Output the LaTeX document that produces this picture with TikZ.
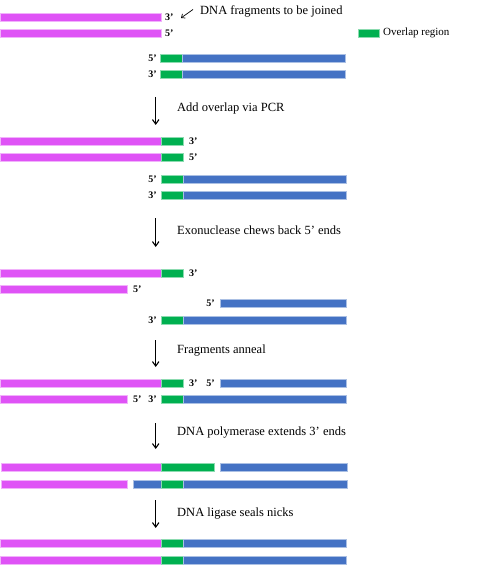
\documentclass[tikz,border=0pt]{standalone}
\usepackage{fontspec}
\setmainfont{Liberation Serif}
\usetikzlibrary{arrows.meta}
\definecolor{dna-pink}{HTML}{DF53F6}
\definecolor{dna-green}{HTML}{00B050}
\definecolor{dna-blue}{HTML}{4472C4}

\begin{document}
\begin{tikzpicture}[x=1pt, y=-1pt,
      every node/.style={font=\fontsize{12.5}{14}\selectfont, inner sep=0pt},
      pk/.style={fill=dna-pink, draw=dna-pink!45, line width=0.6pt},
      gn/.style={fill=dna-green, draw=dna-green!45, line width=0.6pt},
      bl/.style={fill=dna-blue, draw=dna-blue!45, line width=0.6pt},
      endlbl/.style={font=\fontsize{10}{11}\selectfont\bfseries},
      steparrow/.style={line width=1.1pt, -{Straight Barb[length=4.5pt, width=6.5pt]}}]
    \useasboundingbox (0,0) rectangle (487,569);
    % fragments to be joined
    \draw[pk] (0,13) rectangle (161,21);
    \draw[pk] (0,29) rectangle (161,37);
    \draw[gn] (160,54.5) rectangle (182,62.5);
    \draw[bl] (182,54.5) rectangle (345,62.5);
    \draw[gn] (160,70) rectangle (182,78);
    \draw[bl] (182,70) rectangle (345,78);
    \node[endlbl, anchor=west] (a1) at (165,17) {3’};
    \node[endlbl, anchor=west] (a2) at (165,33) {5’};
    \node[endlbl, anchor=east] (a3) at (157,58.5) {5’};
    \node[endlbl, anchor=east] (a4) at (157,74) {3’};
    \node[anchor=west] (title) at (200,11) {DNA fragments to be joined};
    \coordinate (ptrA) at (193,9.5);
    \coordinate (ptrB) at (181,18);
    \draw[line width=0.7pt, -{Straight Barb[length=3pt, width=5pt]}] (ptrA) -- (ptrB);
    \draw[gn] (358,29) rectangle (379,37);
    \node[anchor=west, font=\fontsize{11}{13}\selectfont] (legend) at (383,33) {Overlap region};
    % step 1
    \coordinate (s1a) at (155.7,97);
    \coordinate (s1b) at (155.7,125);
    \draw[steparrow] (s1a) -- (s1b);
    \node[anchor=west] (t1) at (177,108) {Add overlap via PCR};
    \draw[pk] (0,137) rectangle (161,145);
    \draw[gn] (161,137) rectangle (183,145);
    \draw[pk] (0,153) rectangle (161,161);
    \draw[gn] (161,153) rectangle (183,161);
    \draw[gn] (161,175) rectangle (183,183);
    \draw[bl] (183,175) rectangle (346,183);
    \draw[gn] (161,191) rectangle (183,199);
    \draw[bl] (183,191) rectangle (346,199);
    \node[endlbl, anchor=west] (b1) at (189,141) {3’};
    \node[endlbl, anchor=west] (b2) at (189,157) {5’};
    \node[endlbl, anchor=east] (b3) at (157,179) {5’};
    \node[endlbl, anchor=east] (b4) at (157,195) {3’};
    % step 2
    \coordinate (s2a) at (155.7,218);
    \coordinate (s2b) at (155.7,247);
    \draw[steparrow] (s2a) -- (s2b);
    \node[anchor=west] (t2) at (177,230) {Exonuclease chews back 5’ ends};
    \draw[pk] (0,269) rectangle (161,277);
    \draw[gn] (161,269) rectangle (183,277);
    \draw[pk] (0,285) rectangle (127,293);
    \draw[bl] (220,299.5) rectangle (346,307.5);
    \draw[gn] (161,316) rectangle (183,324);
    \draw[bl] (183,316) rectangle (346,324);
    \node[endlbl, anchor=west] (c1) at (189,273) {3’};
    \node[endlbl, anchor=west] (c2) at (133,289) {5’};
    \node[endlbl, anchor=east] (c3) at (215,303.5) {5’};
    \node[endlbl, anchor=east] (c4) at (157,320) {3’};
    % step 3
    \coordinate (s3a) at (155.7,340);
    \coordinate (s3b) at (155.7,367);
    \draw[steparrow] (s3a) -- (s3b);
    \node[anchor=west] (t3) at (177,351) {Fragments anneal};
    \draw[pk] (0,379) rectangle (161,387);
    \draw[gn] (161,379) rectangle (183,387);
    \draw[bl] (220,379) rectangle (346,387);
    \draw[pk] (0,395) rectangle (127,403);
    \draw[gn] (161,395) rectangle (183,403);
    \draw[bl] (183,395) rectangle (346,403);
    \node[endlbl, anchor=west] (d1) at (189,383) {3’};
    \node[endlbl, anchor=east] (d2) at (215,383) {5’};
    \node[endlbl, anchor=west] (d3) at (133,399) {5’};
    \node[endlbl, anchor=east] (d4) at (157,399) {3’};
    % step 4
    \coordinate (s4a) at (155.7,423);
    \coordinate (s4b) at (155.7,449);
    \draw[steparrow] (s4a) -- (s4b);
    \node[anchor=west] (t4) at (177,433) {DNA polymerase extends 3’ ends};
    \draw[pk] (1,463.5) rectangle (161,471.5);
    \draw[gn] (161,463.5) rectangle (214,471.5);
    \draw[bl] (220,463.5) rectangle (347,471.5);
    \draw[pk] (1,480.5) rectangle (127,488.5);
    \draw[bl] (133,480.5) rectangle (161,488.5);
    \draw[gn] (161,480.5) rectangle (183,488.5);
    \draw[bl] (183,480.5) rectangle (347,488.5);
    % step 5
    \coordinate (s5a) at (155.7,500);
    \coordinate (s5b) at (155.7,528);
    \draw[steparrow] (s5a) -- (s5b);
    \node[anchor=west] (t5) at (177,514) {DNA ligase seals nicks};
    \draw[pk] (0,539) rectangle (161,547);
    \draw[gn] (161,539) rectangle (183,547);
    \draw[bl] (183,539) rectangle (346,547);
    \draw[pk] (0,556) rectangle (161,564);
    \draw[gn] (161,556) rectangle (183,564);
    \draw[bl] (183,556) rectangle (346,564);
  \end{tikzpicture}
\end{document}
